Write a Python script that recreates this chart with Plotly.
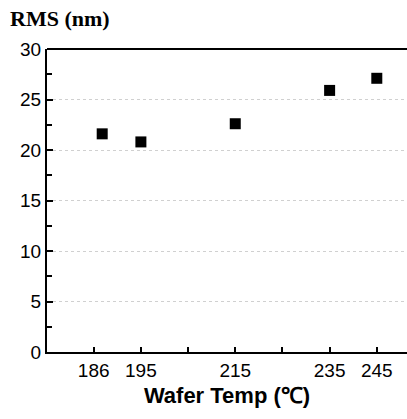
import plotly.graph_objects as go

wafer_temp = [186.8, 195, 215, 235, 245]
rms_nm = [21.6, 20.8, 22.6, 25.9, 27.1]

x_tick_vals = [185, 195, 205, 215, 225, 235, 245]
x_tick_text = ["186", "195", "", "215", "", "235", "245"]
y_tick_vals = [0, 5, 10, 15, 20, 25, 30]

fig = go.Figure()
fig.add_trace(go.Scatter(
    x=wafer_temp, y=rms_nm, mode="markers",
    marker=dict(symbol="square", size=11, color="black"),
    showlegend=False,
))

fig.update_layout(
    width=407, height=419,
    margin=dict(l=47, r=0, t=49, b=67),
    plot_bgcolor="white", paper_bgcolor="white",
    font=dict(family="Liberation Sans, Arial", color="black", size=19),
    annotations=[dict(
        text="<b>RMS (nm)</b>", xref="paper", yref="paper", x=-0.108, y=1.15,
        xanchor="left", yanchor="top", showarrow=False,
        font=dict(family="Liberation Serif, Times New Roman", size=22),
    )],
)

fig.update_xaxes(
    range=[175.1, 251.4], tickvals=x_tick_vals, ticktext=x_tick_text,
    ticks="inside", ticklen=5, tickwidth=1.5, tickcolor="black",
    showline=True, linewidth=2, linecolor="black", showgrid=False,
    zeroline=False, automargin=False,
    title=dict(text="<b>Wafer Temp (℃)</b>", font=dict(size=22), standoff=8),
)
fig.update_yaxes(
    range=[0, 30], tickvals=y_tick_vals, automargin=False,
    ticks="inside", ticklen=6, tickwidth=1.5, tickcolor="black",
    minor=dict(dtick=2.5, tick0=0, ticks="inside", ticklen=5, tickcolor="black", showgrid=False),
    showline=True, linewidth=2, linecolor="black",
    showgrid=True, gridcolor="#d0d0d0", griddash="dot", gridwidth=1,
    zeroline=False,
)
fig.add_shape(type="line", xref="paper", yref="paper", x0=0, x1=1, y0=1, y1=1,
              line=dict(color="black", width=2))

# page body has an 8px default margin; drop it so the figure sits at 0,0
fig.write_html(
    "out.html",
    config={"displayModeBar": False},
    post_script="document.body.style.margin='0';document.body.style.overflow='hidden';",
)
